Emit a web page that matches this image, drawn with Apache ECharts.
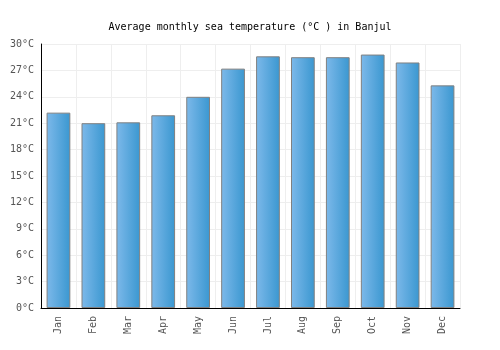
<!DOCTYPE html>
<html>
<head>
    <meta charset="utf-8">
    <title>Banjul sea temperature</title>
    <style type="text/css">
        html, body { margin: 0; padding: 0; background: #fff; }
        #page { width: 500px; height: 350px; }
    </style>
</head>
<body>
<div id="page"></div>
<script src="https://cdn.jsdelivr.net/npm/echarts@6/dist/echarts.min.js"></script>
<script>
    var months = ["Jan", "Feb", "Mar", "Apr", "May", "Jun", "Jul", "Aug", "Sep", "Oct", "Nov", "Dec"];
    var seaTemp = [22.2, 21.0, 21.1, 21.9, 24.0, 27.2, 28.6, 28.5, 28.5, 28.8, 27.9, 25.3];

    (function () {
        var font = "'DejaVu Sans Mono', monospace";
        var myChart = echarts.init(document.getElementById('page'));

        var option = {
            animation: false,
            title: {
                text: 'Average monthly sea temperature (°C ) in Banjul',
                left: 'center',
                top: 17,
                textStyle: { fontFamily: font, fontSize: 10, fontWeight: 'normal', color: '#000' }
            },
            grid: { left: 41, right: 40, top: 44, bottom: 42 },
            xAxis: {
                type: 'category',
                data: months,
                axisLine: { lineStyle: { color: '#000', width: 1 } },
                axisTick: { show: false },
                splitLine: { show: true, interval: 0, lineStyle: { color: '#eeeeee' } },
                axisLabel: {
                    rotate: 90,
                    interval: 0,
                    margin: 8,
                    fontFamily: font,
                    fontSize: 10,
                    color: '#555'
                }
            },
            yAxis: {
                type: 'value',
                min: 0,
                max: 30,
                interval: 3,
                axisLine: { show: true, lineStyle: { color: '#000', width: 1 } },
                axisTick: { show: false },
                splitLine: { lineStyle: { color: '#eeeeee' } },
                axisLabel: {
                    formatter: '{value}°C',
                    margin: 7,
                    fontFamily: font,
                    fontSize: 10,
                    color: '#555'
                }
            },
            series: [{
                type: 'bar',
                data: seaTemp,
                barWidth: '68%',
                itemStyle: {
                    color: {
                        type: 'linear', x: 0, y: 0, x2: 1, y2: 0,
                        colorStops: [
                            { offset: 0, color: '#7db9ea' },
                            { offset: 1, color: '#3a97d0' }
                        ]
                    },
                    borderColor: '#808080',
                    borderWidth: 1
                }
            }]
        };
        myChart.setOption(option);
    })();
</script>
</body>
</html>
